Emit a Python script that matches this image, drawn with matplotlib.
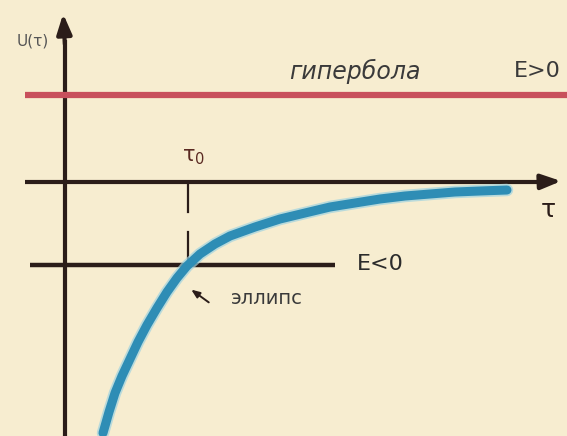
import matplotlib.pyplot as plt

# potential curve U(r) (origin at axis crossing)
r_curve = [38, 44, 50, 57, 65, 73, 82, 92, 102, 112, 122, 135, 150, 165,
           190, 215, 240, 265, 290, 315, 340, 365, 390, 415, 442]
u_curve = [-251, -230, -211, -194, -177, -160, -143, -126, -110, -96, -84, -72, -62, -54,
           -45, -37, -31, -25, -21, -17, -14, -12, -10, -9, -8]

E_pos = 87     # hyperbola level
E_neg = -83    # ellipse level
r0 = 123

ink = '#2b1d19'
bg = '#f7edd0'

fig = plt.figure(figsize=(5.67, 4.36), dpi=100)
fig.patch.set_facecolor(bg)
ax = fig.add_axes([0, 0, 1, 1])
ax.set_facecolor(bg)
ax.set_xlim(-65, 502)
ax.set_ylim(-254, 182)
ax.axis('off')

# axes with arrows
ax.plot([-40, 485], [0, 0], color=ink, lw=3, solid_capstyle='butt')
ax.annotate('', xy=(499, 1), xytext=(470, 0),
            arrowprops=dict(arrowstyle='-|>,head_length=1.2,head_width=0.45', color=ink, lw=3))
ax.plot([0, 0], [-254, 140], color=ink, lw=3)
ax.annotate('', xy=(-2, 171), xytext=(0, 135),
            arrowprops=dict(arrowstyle='-|>,head_length=1.2,head_width=0.45', color=ink, lw=3))

# E > 0 line
ax.plot([-40, 502], [E_pos, E_pos], color='#c8505c', lw=4.5, solid_capstyle='butt')
# E < 0 line
ax.plot([-35, 270], [E_neg, E_neg], color=ink, lw=3.2, solid_capstyle='butt')
# r0 marker
ax.plot([r0, r0], [0, E_neg], color=ink, lw=1.6, dashes=(14, 8))

# U(r) curve
ax.plot(r_curve, u_curve, color='#9fd3e0', lw=9, solid_capstyle='round',
        solid_joinstyle='round', alpha=0.7)
ax.plot(r_curve, u_curve, color='#2e8db5', lw=6.5, solid_capstyle='round',
        solid_joinstyle='round')

# labels
ax.text(-32, 141, 'U(τ)', fontsize=11, color='#555555', ha='center', va='center')
ax.text(290, 111, 'гипербола', fontsize=17, style='italic', color='#3a3a3a',
        ha='center', va='center')
ax.text(472, 111, 'E>0', fontsize=16, color='#3a3a3a', ha='center', va='center')
ax.text(r0 + 6, 25, 'τ$_0$', fontsize=15, color='#5a2a22', ha='center', va='center')
ax.text(483, -28, 'τ', fontsize=18, color=ink, ha='center', va='center')
ax.text(315, -82, 'E<0', fontsize=16, color='#2b2b2b', ha='center', va='center')
ax.text(202, -117, 'эллипс', fontsize=14, color='#3a3a3a', ha='center', va='center')
ax.annotate('', xy=(124, -106), xytext=(146, -122),
            arrowprops=dict(arrowstyle='-|>,head_length=0.5,head_width=0.2', color=ink, lw=1.4))

fig.savefig('out.png', dpi=100, facecolor=bg)
